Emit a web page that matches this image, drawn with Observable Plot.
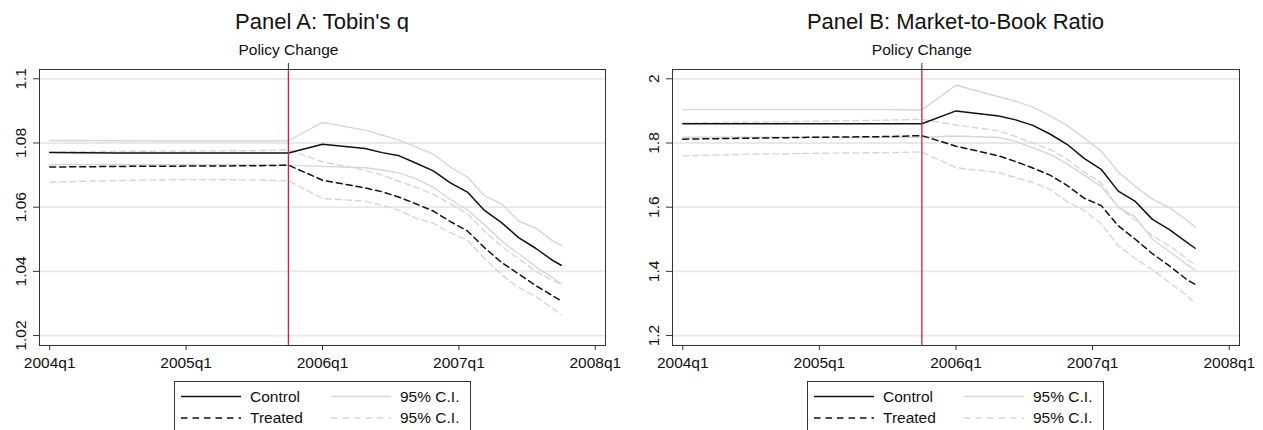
<!DOCTYPE html>
<html><head><meta charset="utf-8">
<script src="https://cdn.jsdelivr.net/npm/d3@7"></script>
<script src="https://cdn.jsdelivr.net/npm/@observablehq/plot@0.6"></script>
<style>
body{margin:0;background:#fff;font-family:"Liberation Sans",Arial,sans-serif;}
#wrap{position:relative;width:1263px;height:430px;overflow:hidden;}
.panel{position:absolute;top:0;width:631px;height:430px;}
.title{position:absolute;top:10.7px;font-size:22px;line-height:22px;text-align:center;color:#111;white-space:nowrap}
.plot{position:absolute;top:32px;left:0}
.legend{position:absolute;top:381px}
</style></head><body><div id="wrap"></div>
<script>
// ---------- data ----------
const quarters = [0, 2, 4, 6, 7, 8, 9.25, 9.75, 10.25, 10.75, 11.25, 11.75, 12.25, 12.75, 13.25, 13.75, 14.25, 14.75, 15];
const xTicks = [0, 4, 8, 12, 16];
const xTickLabels = ["2004q1", "2005q1", "2006q1", "2007q1", "2008q1"];
const policyQuarter = 7;
const policyLabel = "Policy Change";

// Panel A: Tobin's q
const titleA = "Panel A: Tobin's q";
const yTicksA = [1.02, 1.04, 1.06, 1.08, 1.1];
const yTickLabelsA = ["1.02", "1.04", "1.06", "1.08", "1.1"];
const controlA   = [1.0770,1.0769,1.0769,1.0769,1.0769,1.0796,1.0783,1.0770,1.0760,1.0737,1.0713,1.0676,1.0647,1.0590,1.0552,1.0505,1.0472,1.0434,1.0419];
const treatedA   = [1.0725,1.0727,1.0728,1.0729,1.0731,1.0684,1.0660,1.0648,1.0631,1.0610,1.0588,1.0555,1.0526,1.0474,1.0428,1.0392,1.0356,1.0324,1.0308];
const controlHiA = [1.0808,1.0807,1.0806,1.0806,1.0807,1.0864,1.0840,1.0824,1.0809,1.0787,1.0765,1.0725,1.0694,1.0635,1.0610,1.0557,1.0535,1.0495,1.0481];
const controlLoA = [1.0733,1.0732,1.0732,1.0732,1.0731,1.0727,1.0723,1.0716,1.0707,1.0688,1.0662,1.0624,1.0592,1.0545,1.0495,1.0455,1.0415,1.0380,1.0362];
const treatedHiA = [1.0772,1.0774,1.0775,1.0776,1.0779,1.0741,1.0715,1.0700,1.0680,1.0662,1.0640,1.0610,1.0580,1.0525,1.0478,1.0440,1.0400,1.0372,1.0360];
const treatedLoA = [1.0678,1.0683,1.0686,1.0685,1.0682,1.0627,1.0619,1.0606,1.0590,1.0565,1.0550,1.0520,1.0497,1.0440,1.0390,1.0350,1.0322,1.0285,1.0265];

// Panel B: Market-to-Book Ratio
const titleB = "Panel B: Market-to-Book Ratio";
const yTicksB = [1.2, 1.4, 1.6, 1.8, 2];
const yTickLabelsB = ["1.2", "1.4", "1.6", "1.8", "2"];
const controlB   = [1.860,1.860,1.860,1.860,1.860,1.900,1.884,1.872,1.855,1.828,1.796,1.752,1.718,1.650,1.618,1.562,1.530,1.491,1.472];
const treatedB   = [1.812,1.815,1.818,1.820,1.823,1.790,1.760,1.742,1.722,1.700,1.668,1.628,1.605,1.542,1.500,1.455,1.417,1.375,1.359];
const controlHiB = [1.904,1.904,1.904,1.904,1.903,1.980,1.944,1.930,1.912,1.885,1.855,1.815,1.775,1.710,1.665,1.625,1.598,1.560,1.538];
const controlLoB = [1.818,1.818,1.818,1.818,1.818,1.822,1.817,1.805,1.785,1.765,1.735,1.700,1.665,1.600,1.570,1.500,1.462,1.422,1.405];
const treatedHiB = [1.862,1.865,1.868,1.871,1.874,1.856,1.838,1.820,1.800,1.780,1.750,1.710,1.675,1.600,1.560,1.510,1.480,1.440,1.420];
const treatedLoB = [1.760,1.765,1.768,1.770,1.772,1.723,1.708,1.692,1.677,1.656,1.618,1.590,1.549,1.480,1.440,1.405,1.365,1.325,1.300];

const legendLabels = ["Control", "95% C.I.", "Treated", "95% C.I."];

// ---------- styles ----------
const FONT = '"Liberation Sans", Arial, sans-serif';
const RED = "#cc1f4a";
const CI = "#d6d6d6";
const GRID = "#e8e8e8";
const styleMain = {stroke: "#111", strokeWidth: 1.5};
const styleCI = {stroke: CI, strokeWidth: 1.4};
const DASH = "6,4";

const panels = [
  {left: 0, ml: 39, mr: 26, title: titleA, yTicks: yTicksA, yLabels: yTickLabelsA, ydom: [1.0169, 1.1029],
   series: {control: controlA, treated: treatedA, cHi: controlHiA, cLo: controlLoA, tHi: treatedHiA, tLo: treatedLoA}},
  {left: 632, ml: 40, mr: 24, title: titleB, yTicks: yTicksB, yLabels: yTickLabelsB, ydom: [1.169, 2.029],
   series: {control: controlB, treated: treatedB, cHi: controlHiB, cLo: controlLoB, tHi: treatedHiB, tLo: treatedLoB}}
];

const W = 631, H = 343, MT = 37, MB = 30;
const wrap = document.getElementById("wrap");
const toRows = arr => quarters.map((q, i) => ({q, v: arr[i]}));

for (const p of panels) {
  const div = document.createElement("div");
  div.className = "panel";
  div.style.left = p.left + "px";
  wrap.appendChild(div);

  const t = document.createElement("div");
  t.className = "title";
  t.style.left = p.ml + "px";
  t.style.width = (W - p.ml - p.mr) + "px";
  t.textContent = p.title;
  div.appendChild(t);

  const s = p.series;
  const line = (arr, st, dash) => Plot.line(toRows(arr), {x: "q", y: "v", ...st, strokeDasharray: dash});
  const xLab = new Map(xTicks.map((d, i) => [d, xTickLabels[i]]));

  const chart = Plot.plot({
    width: W, height: H,
    marginLeft: p.ml, marginRight: p.mr, marginTop: MT, marginBottom: MB,
    style: {fontFamily: FONT, fontSize: "15.5px", color: "#111", background: "white", overflow: "visible"},
    x: {domain: [-0.3, 16.3]},
    y: {domain: p.ydom},
    marks: [
      Plot.gridY(p.yTicks, {stroke: GRID, strokeOpacity: 1, strokeWidth: 1.8}),
      line(s.cHi, styleCI), line(s.cLo, styleCI),
      line(s.tHi, styleCI, DASH), line(s.tLo, styleCI, DASH),
      line(s.control, styleMain), line(s.treated, styleMain, DASH),
      Plot.ruleX([policyQuarter], {stroke: RED, strokeWidth: 1.3}),
      Plot.frame({stroke: "#333", strokeWidth: 1}),
      Plot.axisX(xTicks, {anchor: "bottom", tickSize: 5, tickPadding: 6, tickFormat: d => xLab.get(d), label: null, stroke: "#333"}),
      Plot.axisX([policyQuarter], {anchor: "top", tickSize: 7, tickPadding: 8, tickFormat: () => policyLabel, label: null, stroke: "#333"}),
      Plot.axisY(p.yTicks, {anchor: "left", tickSize: 6, tickFormat: () => "", label: null, stroke: "#333"}),
      Plot.text(p.yTicks, {y: d => d, text: (d, i) => p.yLabels[i], frameAnchor: "left", rotate: -90, dx: -13.5, lineAnchor: "bottom", textAnchor: "middle", fill: "#111"})
    ]
  });
  chart.classList.add("plot");
  chart.style.position = "absolute";
  chart.style.top = "32px";
  chart.style.left = "0px";
  div.appendChild(chart);

  // legend
  const lw = 297, lh = 60;
  const cx = p.ml + (W - p.ml - p.mr) / 2;
  const lg = d3.create("svg").attr("width", lw).attr("height", lh)
    .attr("class", "legend")
    .style("left", (cx - lw / 2) + "px")
    .style("font-family", FONT).style("font-size", "15.5px");
  lg.append("rect").attr("x", 0.5).attr("y", 0.5).attr("width", lw - 1).attr("height", lh + 10)
    .attr("fill", "white").attr("stroke", "#333");
  const items = [
    {col: 0, row: 0, st: styleMain, dash: null, label: legendLabels[0]},
    {col: 1, row: 0, st: styleCI, dash: null, label: legendLabels[1]},
    {col: 0, row: 1, st: styleMain, dash: DASH, label: legendLabels[2]},
    {col: 1, row: 1, st: styleCI, dash: DASH, label: legendLabels[3]}
  ];
  for (const it of items) {
    const x0 = it.col === 0 ? 7 : 157;
    const y0 = it.row === 0 ? 15.5 : 37;
    lg.append("line").attr("x1", x0).attr("x2", x0 + 60).attr("y1", y0).attr("y2", y0)
      .attr("stroke", it.st.stroke).attr("stroke-width", it.st.strokeWidth)
      .attr("stroke-dasharray", it.dash ? "6.5,5" : null);
    lg.append("text").attr("x", x0 + 69).attr("y", y0).attr("dy", "0.35em").attr("fill", "#111").text(it.label);
  }
  div.appendChild(lg.node());
}
</script></body></html>
